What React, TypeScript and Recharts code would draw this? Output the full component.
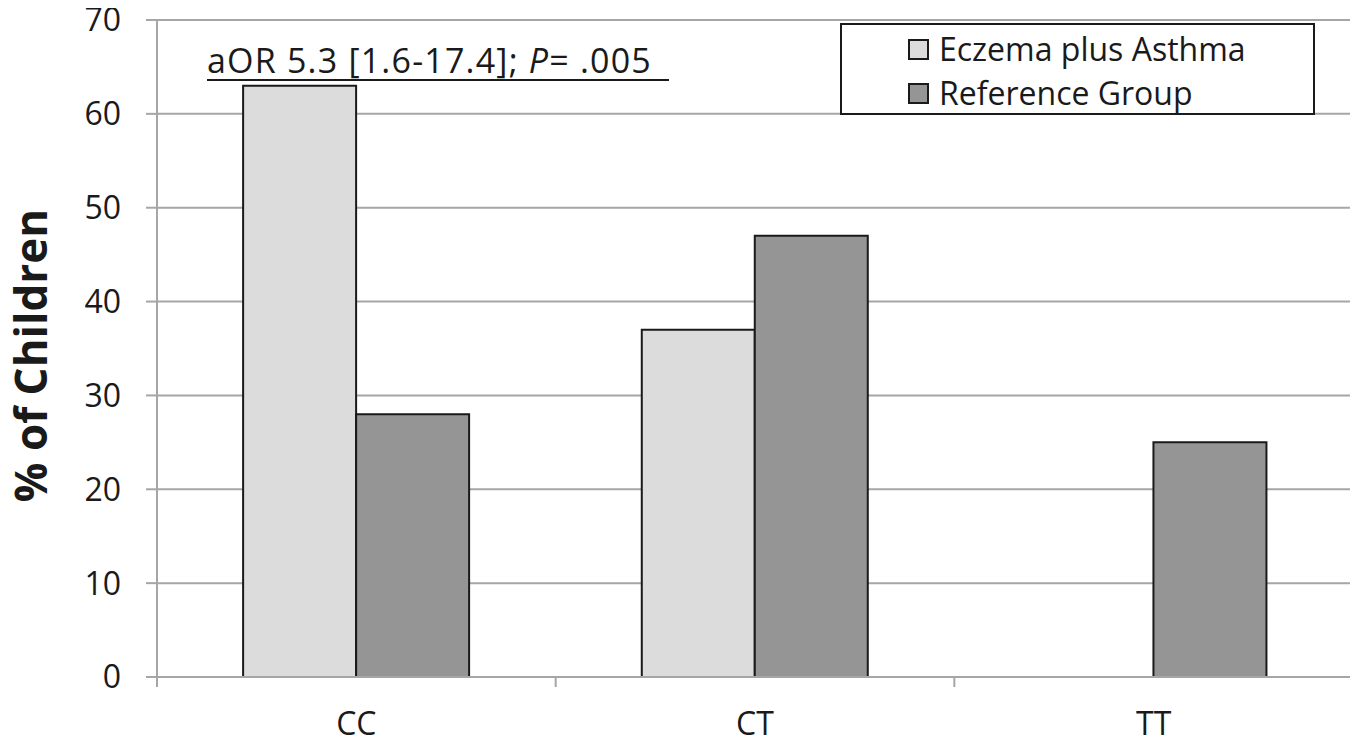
import React from 'react';
import {
  BarChart,
  Bar,
  XAxis,
  YAxis,
  CartesianGrid,
  Label,
} from 'recharts';

const genotypes = ['CC', 'CT', 'TT'];
const eczemaAsthma = [63, 37, 0];
const referenceGroup = [28, 47, 25];
const yTicks = [0, 10, 20, 30, 40, 50, 60, 70];

const seriesNames = ['Eczema plus Asthma', 'Reference Group'];
const seriesColors = ['#dcdcdc', '#959595'];

const data = genotypes.map((g, i) => ({
  genotype: g,
  eczema: eczemaAsthma[i],
  reference: referenceGroup[i],
}));

const FONT = '"Open Sans", sans-serif';
const GRID = '#a6a6a6';
const WIDTH = 1358;
const HEIGHT = 745;
const MARGIN = { top: 20, right: 5, bottom: 38, left: 0 };
const Y_AXIS_W = 157;
const BAND = (WIDTH - MARGIN.left - MARGIN.right - Y_AXIS_W) / genotypes.length;

function GenotypeTick(props: any) {
  const { x, y, payload, index } = props;
  const half = payload && payload.offset ? payload.offset : BAND / 2;
  return (
    <g>
      <line x1={x - half} x2={x - half} y1={y - 9} y2={y + 2} stroke={GRID} strokeWidth={2} />
      {index === genotypes.length - 1 && (
        <line x1={x + half} x2={x + half} y1={y - 9} y2={y + 2} stroke={GRID} strokeWidth={2} />
      )}
      <text x={x} y={y + 50} textAnchor="middle" fontSize={32} fontFamily={FONT} fill="#1a1a1a">
        {payload.value}
      </text>
    </g>
  );
}

// legend box drawn as plain html so the chart keeps its full plot height
function LegendBox() {
  return (
    <div
      style={{
        position: 'absolute',
        left: 840,
        top: 23,
        width: 475,
        height: 92,
        boxSizing: 'border-box',
        border: '2px solid #1a1a1a',
        background: '#fff',
        paddingTop: 2,
        paddingLeft: 66,
        fontFamily: FONT,
        fontSize: 32,
        color: '#1a1a1a',
      }}
    >
      {seriesNames.map((name, i) => (
        <div key={name} style={{ display: 'flex', alignItems: 'center', height: 44 }}>
          <span
            style={{
              display: 'inline-block',
              width: 17,
              height: 17,
              background: seriesColors[i],
              border: '2px solid #1a1a1a',
              marginRight: 10,
            }}
          />
          <span style={{ lineHeight: '44px' }}>{name}</span>
        </div>
      ))}
    </div>
  );
}

export default function App() {
  return (
    <div style={{ position: 'relative', width: WIDTH, height: HEIGHT, margin: '-8px 0 0 -8px', background: '#fff' }}>
      <BarChart
        width={WIDTH}
        height={HEIGHT}
        data={data}
        margin={MARGIN}
        barCategoryGap="21.6%"
        barGap={0}
      >
        <CartesianGrid vertical={false} stroke={GRID} strokeWidth={2} />
        <XAxis
          dataKey="genotype"
          height={30}
          axisLine={{ stroke: GRID, strokeWidth: 2 }}
          tickLine={false}
          tick={<GenotypeTick />}
          interval={0}
        />
        <YAxis
          width={Y_AXIS_W}
          domain={[0, 70]}
          ticks={yTicks}
          axisLine={{ stroke: GRID, strokeWidth: 2 }}
          tickLine={{ stroke: GRID, strokeWidth: 2 }}
          tickSize={11}
          tickMargin={25}
          tick={{ fontSize: 32, fontFamily: FONT, fill: '#1a1a1a' }}
        >
          <Label
            value="% of Children"
            angle={-90}
            position="insideLeft"
            offset={0}
            dx={31}
            dy={7}
            style={{ fontSize: 44, fontWeight: 700, fontFamily: FONT, fill: '#1a1a1a', textAnchor: 'middle' }}
          />
        </YAxis>
        <YAxis
          yAxisId="right"
          orientation="right"
          width={0}
          domain={[0, 70]}
          tick={false}
          tickLine={false}
          axisLine={{ stroke: GRID, strokeWidth: 2 }}
        />
        <Bar
          dataKey="eczema"
          name={seriesNames[0]}
          fill={seriesColors[0]}
          stroke="#1a1a1a"
          strokeWidth={2}
          isAnimationActive={false}
        />
        <Bar
          dataKey="reference"
          name={seriesNames[1]}
          fill={seriesColors[1]}
          stroke="#1a1a1a"
          strokeWidth={2}
          isAnimationActive={false}
        />
      </BarChart>
      <LegendBox />
      <div
        style={{
          position: 'absolute',
          left: 207,
          top: 41,
          width: 462,
          height: 38,
          borderBottom: '2px solid #1a1a1a',
          fontFamily: FONT,
          fontSize: 34,
          letterSpacing: 1.2,
          lineHeight: '38px',
          color: '#1a1a1a',
          whiteSpace: 'nowrap',
        }}
      >
        aOR 5.3 [1.6-17.4]; <i>P</i>= .005
      </div>
    </div>
  );
}
